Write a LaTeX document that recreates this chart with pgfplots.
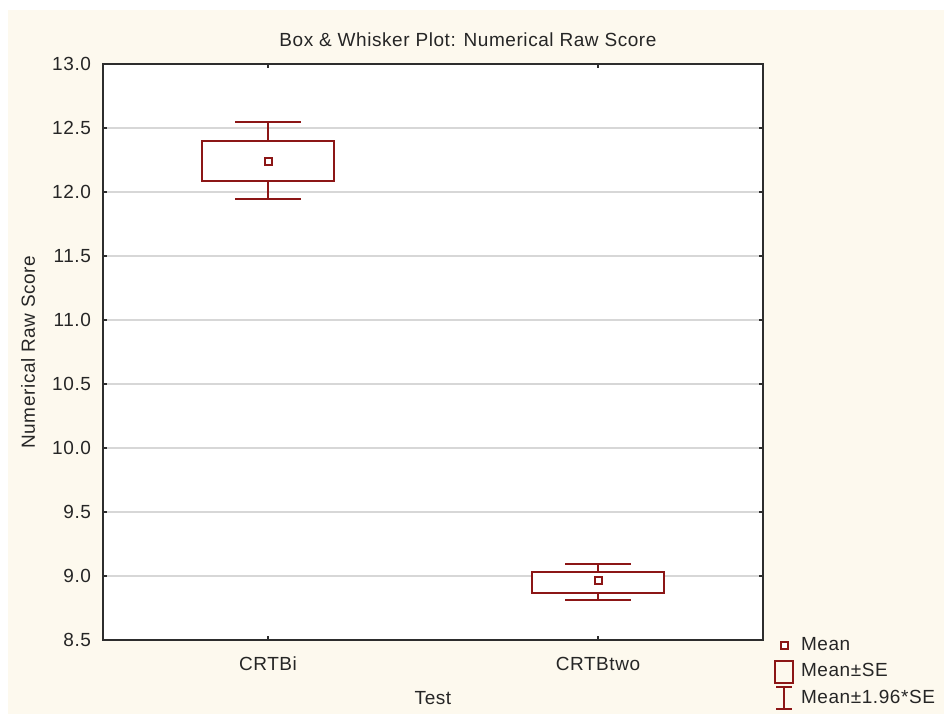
\documentclass[border=0pt]{standalone}
\usepackage{fontspec}
\setmainfont[LetterSpace=3]{Liberation Sans}
\usepackage{pgfplots}
\pgfplotsset{compat=1.18}
\definecolor{bgc}{RGB}{253,249,238}
\definecolor{dr}{RGB}{140,22,22}
\definecolor{gridc}{RGB}{215,215,215}
\definecolor{axc}{RGB}{45,45,45}
\newcommand{\fs}{\fontsize{9.5}{11}\selectfont}
\begin{document}
\begin{tikzpicture}
\useasboundingbox (0,0) rectangle (472pt,357pt);
\fill[bgc] (4pt,0) rectangle (472pt,352pt);
\begin{axis}[
  at={(51.5pt,37pt)}, anchor=south west,
  scale only axis, width=330pt, height=288pt,
  xmin=-0.5, xmax=1.5, ymin=8.5, ymax=13,
  xtick={0,1}, xticklabels={CRTBi,CRTBtwo},
  ytick={8.5,9,9.5,10,10.5,11,11.5,12,12.5,13},
  /pgf/number format/assume math mode=true,
  yticklabel style={/pgf/number format/fixed, /pgf/number format/fixed zerofill, /pgf/number format/precision=1, xshift=-2.5pt},
  xticklabel style={yshift=-5pt},
  tick align=inside, major tick length=2pt, tick pos=both,
  tick style={axc, line width=0.6pt},
  axis line style={axc, line width=0.9pt},
  ymajorgrids, grid style={gridc, line width=0.7pt},
  axis background/.style={fill=white},
  tick label style={font=\fs, text=black!85},
  label style={font=\fs, text=black!85},
  title={Box \& Whisker Plot: Numerical Raw Score},
  title style={at={(axis description cs:0.553,1)}, anchor=center, yshift=6pt, font=\fs, text=black!85},
  xlabel={Test},
  xlabel style={at={(axis description cs:0.5,0)}, anchor=center, yshift=-29pt},
  ylabel={Numerical Raw Score},
  ylabel style={at={(axis description cs:-0.1136,0.5)}, anchor=center},
  legend style={at={(axis description cs:1.0167,0.0143)}, anchor=north west, draw=none, fill=none, inner sep=0pt, outer sep=0pt, row sep=0pt, column sep=3.5pt, font=\fs, text=black!85, nodes={inner sep=0pt, anchor=west, minimum height=13.25pt}},
  legend cell align=left,
]
% CRTBi
\addplot[dr, line width=1pt, forget plot] coordinates {(0,12.398) (0,12.547)};
\addplot[dr, line width=1pt, forget plot] coordinates {(0,12.086) (0,11.945)};
\addplot[dr, line width=1pt, forget plot] coordinates {(-0.1,12.547) (0.1,12.547)};
\addplot[dr, line width=1pt, forget plot] coordinates {(-0.1,11.945) (0.1,11.945)};
\addplot[dr, line width=1pt, fill=white, line join=miter, forget plot] coordinates {(-0.2,12.086) (0.2,12.086) (0.2,12.398) (-0.2,12.398)} -- cycle;
% CRTBtwo
\addplot[dr, line width=1pt, forget plot] coordinates {(1,9.029) (1,9.091)};
\addplot[dr, line width=1pt, forget plot] coordinates {(1,8.870) (1,8.810)};
\addplot[dr, line width=1pt, forget plot] coordinates {(0.9,9.091) (1.1,9.091)};
\addplot[dr, line width=1pt, forget plot] coordinates {(0.9,8.810) (1.1,8.810)};
\addplot[dr, line width=1pt, fill=white, line join=miter, forget plot] coordinates {(0.8,8.870) (1.2,8.870) (1.2,9.029) (0.8,9.029)} -- cycle;
% means
\addplot[only marks, mark=square, mark size=1.75pt, mark options={draw=dr, line width=1pt, fill=white}, forget plot] coordinates {(0,12.242) (1,8.962)};
% legend
\addlegendimage{legend image code/.code={\draw[dr, line width=1pt, fill=white] (2.75pt,-1.75pt) rectangle (6.25pt,1.75pt);}}
\addlegendentry{Mean}
\addlegendimage{legend image code/.code={\draw[dr, line width=1pt] (0pt,-5.5pt) rectangle (9pt,5.5pt);}}
\addlegendentry{Mean±SE}
\addlegendimage{legend image code/.code={\draw[dr, line width=1pt] (0.5pt,-5.5pt) -- (8.5pt,-5.5pt) (4.5pt,-5.5pt) -- (4.5pt,5.5pt) (0.5pt,5.5pt) -- (8.5pt,5.5pt);}}
\addlegendentry{Mean±1.96*SE}
\end{axis}
\end{tikzpicture}
\end{document}
